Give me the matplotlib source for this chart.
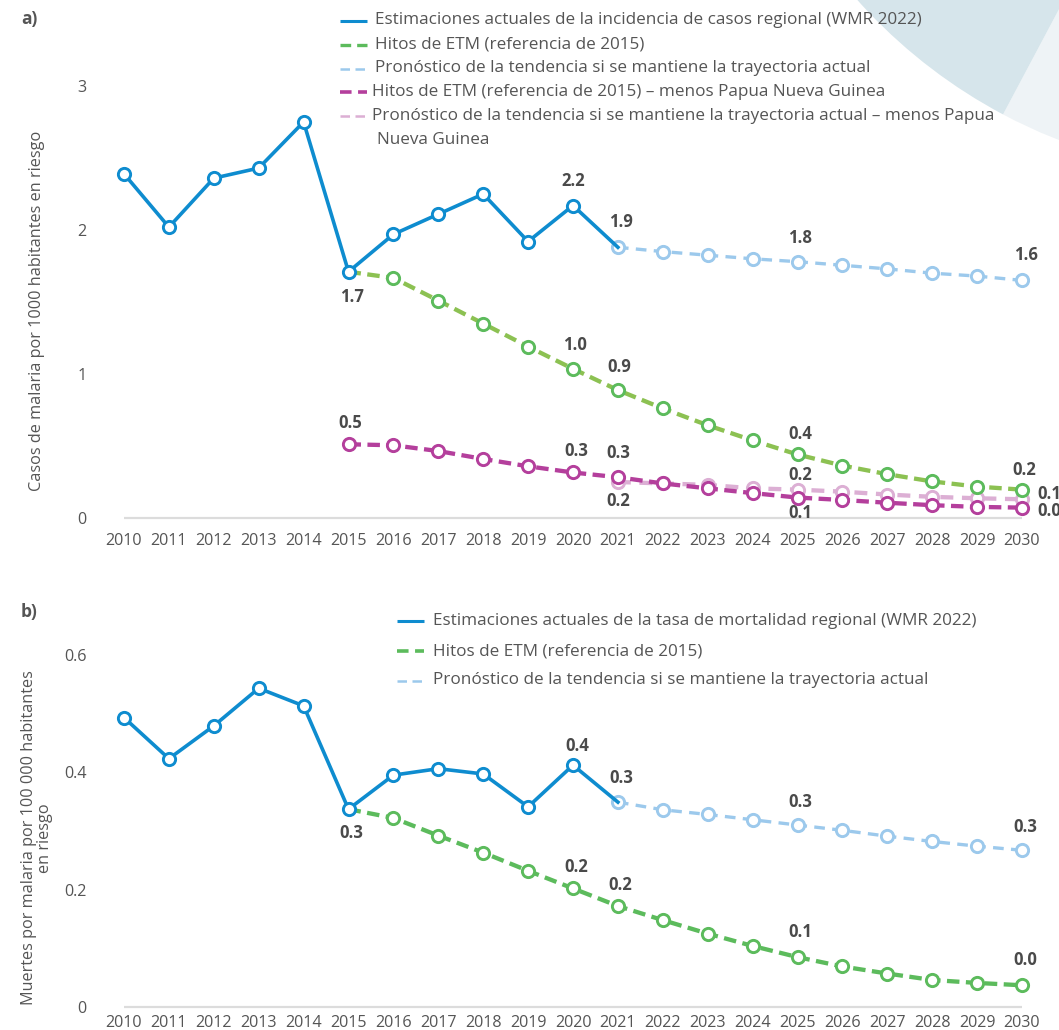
import matplotlib
matplotlib.use('Agg')
import matplotlib.pyplot as plt
from matplotlib.patches import Wedge

plt.rcParams['font.family'] = ['Open Sans', 'DejaVu Sans']

# ---------------- data ----------------
years_hist = list(range(2010, 2022))
years_etm = list(range(2015, 2031))
years_fc = list(range(2021, 2031))
tick_years = list(range(2010, 2031))

# Panel a: incidence (cases per 1000 population at risk)
inc_hist = [2.39, 2.02, 2.36, 2.43, 2.75, 1.71, 1.97, 2.11, 2.25, 1.92, 2.17, 1.88]
inc_fc = [1.88, 1.85, 1.825, 1.80, 1.78, 1.755, 1.73, 1.70, 1.68, 1.65]
inc_etm = [1.71, 1.667, 1.51, 1.35, 1.19, 1.036, 0.888, 0.761, 0.644, 0.539,
           0.441, 0.364, 0.304, 0.254, 0.218, 0.197]
inc_etm_png = [0.512, 0.505, 0.465, 0.41, 0.359, 0.316, 0.283, 0.24, 0.206, 0.173,
               0.142, 0.125, 0.106, 0.089, 0.077, 0.072]
inc_fc_png = [0.25, 0.24, 0.23, 0.206, 0.197, 0.183, 0.163, 0.147, 0.137, 0.13]

# Panel b: mortality (deaths per 100 000 population at risk)
mort_hist = [0.493, 0.423, 0.479, 0.543, 0.513, 0.337, 0.395, 0.406, 0.397, 0.341, 0.412, 0.349]
mort_fc = [0.349, 0.336, 0.328, 0.319, 0.310, 0.301, 0.291, 0.282, 0.274, 0.267]
mort_etm = [0.337, 0.322, 0.292, 0.263, 0.232, 0.202, 0.172, 0.148, 0.125, 0.104,
            0.085, 0.069, 0.057, 0.046, 0.041, 0.037]

legend_a = [
    "Estimaciones actuales de la incidencia de casos regional (WMR 2022)",
    "Hitos de ETM (referencia de 2015)",
    "Pronóstico de la tendencia si se mantiene la trayectoria actual",
    "Hitos de ETM (referencia de 2015) – menos Papua Nueva Guinea",
    "Pronóstico de la tendencia si se mantiene la trayectoria actual – menos Papua",
]
legend_a_cont = "Nueva Guinea"
legend_b = [
    "Estimaciones actuales de la tasa de mortalidad regional (WMR 2022)",
    "Hitos de ETM (referencia de 2015)",
    "Pronóstico de la tendencia si se mantiene la trayectoria actual",
]
ylabel_a = "Casos de malaria por 1000 habitantes en riesgo"
ylabel_b = "Muertes por malaria por 100 000 habitantes\nen riesgo"
yticks_a = [0, 1, 2, 3]
yticks_b = [0, 0.2, 0.4, 0.6]
ytick_labels_b = ["0", "0.2", "0.4", "0.6"]

# ---------------- style ----------------
BLUE = '#0e8ccf'
LBLUE = '#9cc9ec'
GREEN_LINE_A = '#8cc152'
GREEN = '#5cbb5c'
MAGENTA = '#b43f9c'
PINK = '#dcafd4'
GRAY_TXT = '#555555'
LBL_TXT = '#4a4a4a'
W, H = 1059, 1030
LEG_FS = 12.3
TICK_FS = 11.6
LBL_FS = 12
GREEN_DASH = (0, (2.9, 1.5))
LBLUE_DASH = (0, (3.2, 2.2))

fig = plt.figure(figsize=(W / 100, H / 100), dpi=100)
fig.patch.set_facecolor('white')

# background overlay in pixel coordinates (y up)
bg = fig.add_axes([0, 0, 1, 1], zorder=0)
bg.set_xlim(0, W)
bg.set_ylim(0, H)
bg.axis('off')
cx, cy, r = 1250, H + 350, 526
bg.add_patch(Wedge((cx, cy), r, 242, 290, facecolor='#eef3f6', edgecolor='none'))
bg.add_patch(Wedge((cx, cy), r, 205, 242, facecolor='#d6e5eb', edgecolor='none'))


def px(y):
    return H - y


def legend_row(x0, x1, xt, y, color, lw, ls, text):
    bg.plot([x0, x1], [px(y), px(y)], color=color, lw=lw, ls=ls, solid_capstyle='butt',
            dash_capstyle='butt')
    bg.text(xt, px(y), text, fontsize=LEG_FS, color=GRAY_TXT, va='center', ha='left')


# panel a legend
la_rows = [20.5, 44.5, 68.5, 92, 116]
la_style = [(BLUE, 2.2, '-'), (GREEN, 2.4, (0, (3.2, 1.8))), (LBLUE, 1.8, (0, (3.8, 2.2))),
            (MAGENTA, 2.6, (0, (3.2, 1.8))), (PINK, 1.8, (0, (3.8, 2.2)))]
for i, (lab_txt, (c, lw, d)) in enumerate(zip(legend_a, la_style)):
    xt = 375 if i < 3 else 372
    legend_row(340, 367, xt, la_rows[i], c, lw, d, lab_txt)
bg.text(377, px(140.5), legend_a_cont, fontsize=LEG_FS, color=GRAY_TXT, va='center', ha='left')

# panel b legend
lb_rows = [621, 651, 680.5]
lb_style = [(BLUE, 2.2, '-'), (GREEN, 2.6, (0, (3.2, 1.8))), (LBLUE, 1.8, (0, (3.8, 2.2)))]
for lab_txt, yy, (c, lw, d) in zip(legend_b, lb_rows, lb_style):
    legend_row(397, 424, 433, yy, c, lw, d, lab_txt)

fig.text(21 / W, 1 - 19 / H, 'a)', fontsize=12.5, fontweight='bold', color=GRAY_TXT,
         va='center', ha='left')
fig.text(21 / W, 1 - 612 / H, 'b)', fontsize=12.5, fontweight='bold', color=GRAY_TXT,
         va='center', ha='left')
fig.text(37 / W, 1 - 311 / H, ylabel_a, rotation=90, fontsize=11.7, color=GRAY_TXT,
         va='center', ha='center')
fig.text(37 / W, 1 - 838 / H, ylabel_b, rotation=90, fontsize=11.7, color=GRAY_TXT,
         va='center', ha='center', linespacing=1.0)

# x mapping: 2010 -> 124 px, 2030 -> 1022 px
x_left_px = 124 - 44.9 * 0.5
x_right_px = 1022 + 44.9 * 0.5


def make_axes(zero_px, top_px, top_val):
    ax = fig.add_axes([x_left_px / W, (H - zero_px) / H, (x_right_px - x_left_px) / W,
                       (zero_px - top_px) / H], zorder=2)
    ax.set_facecolor('none')
    ax.set_xlim(2009.5, 2030.5)
    ax.set_ylim(0, top_val)
    for s in ax.spines.values():
        s.set_visible(False)
    ax.hlines(0, 2010, 2030, color='#dcdcdc', lw=1.6, zorder=1, clip_on=False)
    ax.set_xticks(tick_years)
    ax.set_xticklabels([str(y) for y in tick_years])
    ax.tick_params(axis='both', length=0, labelsize=TICK_FS, labelcolor=GRAY_TXT)
    return ax


mk = dict(marker='o', markersize=8.8, markerfacecolor='white', markeredgewidth=2.1,
          clip_on=False)

# ---------------- panel a ----------------
axa = make_axes(518, 60, (518 - 60) / 144)
axa.tick_params(axis='x', pad=11)
axa.tick_params(axis='y', pad=11)
axa.set_yticks(yticks_a)
axa.set_yticklabels([str(v) for v in yticks_a])

axa.plot(years_fc, inc_fc_png, color=PINK, lw=3.1, ls=(0, (3.0, 2.0)),
         markeredgecolor=PINK, zorder=3, **mk)
axa.plot(years_etm, inc_etm_png, color=MAGENTA, lw=3.1, ls=GREEN_DASH,
         markeredgecolor=MAGENTA, zorder=4, **mk)
axa.plot(years_etm, inc_etm, color=GREEN_LINE_A, lw=3.1, ls=GREEN_DASH,
         markeredgecolor=GREEN, markevery=list(range(1, len(years_etm))), zorder=4, **mk)
axa.plot(years_fc, inc_fc, color=LBLUE, lw=2.4, ls=LBLUE_DASH,
         markeredgecolor=LBLUE, zorder=4, **mk)
axa.plot(years_hist, inc_hist, color=BLUE, lw=2.6, markeredgecolor=BLUE,
         markevery=list(range(0, len(years_hist) - 1)), zorder=5, **mk)


def lab(ax, x, y, text, dx, dy):
    ax.annotate(text, (x, y), xytext=(dx, -dy), textcoords='offset pixels',
                ha='center', va='center', fontsize=LBL_FS, fontweight='bold',
                color=LBL_TXT, zorder=6, annotation_clip=False)


def val(years, vals, yr):
    return vals[years.index(yr)]


lab(axa, 2020, val(years_hist, inc_hist, 2020), '2.2', 0, -25)
lab(axa, 2021, val(years_hist, inc_hist, 2021), '1.9', 3, -25)
lab(axa, 2025, val(years_fc, inc_fc, 2025), '1.8', 3, -24)
lab(axa, 2030, val(years_fc, inc_fc, 2030), '1.6', 4, -25)
lab(axa, 2015, val(years_hist, inc_hist, 2015), '1.7', 3, 25)
lab(axa, 2020, val(years_etm, inc_etm, 2020), '1.0', 2, -24)
lab(axa, 2021, val(years_etm, inc_etm, 2021), '0.9', 1, -23)
lab(axa, 2025, val(years_etm, inc_etm, 2025), '0.4', 3, -20)
lab(axa, 2030, val(years_etm, inc_etm, 2030), '0.2', 2, -20)
lab(axa, 2015, val(years_etm, inc_etm_png, 2015), '0.5', 2, -21)
lab(axa, 2020, val(years_etm, inc_etm_png, 2020), '0.3', 3, -21)
lab(axa, 2021, val(years_etm, inc_etm_png, 2021), '0.3', 0, -24)
lab(axa, 2021, val(years_fc, inc_fc_png, 2021), '0.2', 0, 19)
lab(axa, 2025, val(years_fc, inc_fc_png, 2025), '0.2', 3, -15)
lab(axa, 2025, val(years_etm, inc_etm_png, 2025), '0.1', 3, 15)
lab(axa, 2030, val(years_fc, inc_fc_png, 2030), '0.1', 27, -5)
lab(axa, 2030, val(years_etm, inc_etm_png, 2030), '0.0', 27, 3)

# ---------------- panel b ----------------
axb = make_axes(1007, 620, (1007 - 620) / 587)
axb.tick_params(axis='x', pad=6)
axb.tick_params(axis='y', pad=11)
axb.set_yticks(yticks_b)
axb.set_yticklabels(ytick_labels_b)

axb.plot(years_etm, mort_etm, color=GREEN, lw=3.1, ls=GREEN_DASH,
         markeredgecolor=GREEN, markevery=list(range(1, len(years_etm))), zorder=4, **mk)
axb.plot(years_fc, mort_fc, color=LBLUE, lw=2.4, ls=LBLUE_DASH,
         markeredgecolor=LBLUE, zorder=4, **mk)
axb.plot(years_hist, mort_hist, color=BLUE, lw=2.6, markeredgecolor=BLUE,
         markevery=list(range(0, len(years_hist) - 1)), zorder=5, **mk)

lab(axb, 2015, val(years_hist, mort_hist, 2015), '0.3', 3, 24)
lab(axb, 2020, val(years_hist, mort_hist, 2020), '0.4', 4, -19)
lab(axb, 2021, val(years_hist, mort_hist, 2021), '0.3', 3, -24)
lab(axb, 2025, val(years_fc, mort_fc, 2025), '0.3', 3, -23)
lab(axb, 2030, val(years_fc, mort_fc, 2030), '0.3', 3, -23)
lab(axb, 2020, val(years_etm, mort_etm, 2020), '0.2', 3, -21)
lab(axb, 2021, val(years_etm, mort_etm, 2021), '0.2', 2, -21)
lab(axb, 2025, val(years_etm, mort_etm, 2025), '0.1', 3, -25)
lab(axb, 2030, val(years_etm, mort_etm, 2030), '0.0', 3, -25)

fig.savefig('out.png', dpi=100, facecolor='white')
